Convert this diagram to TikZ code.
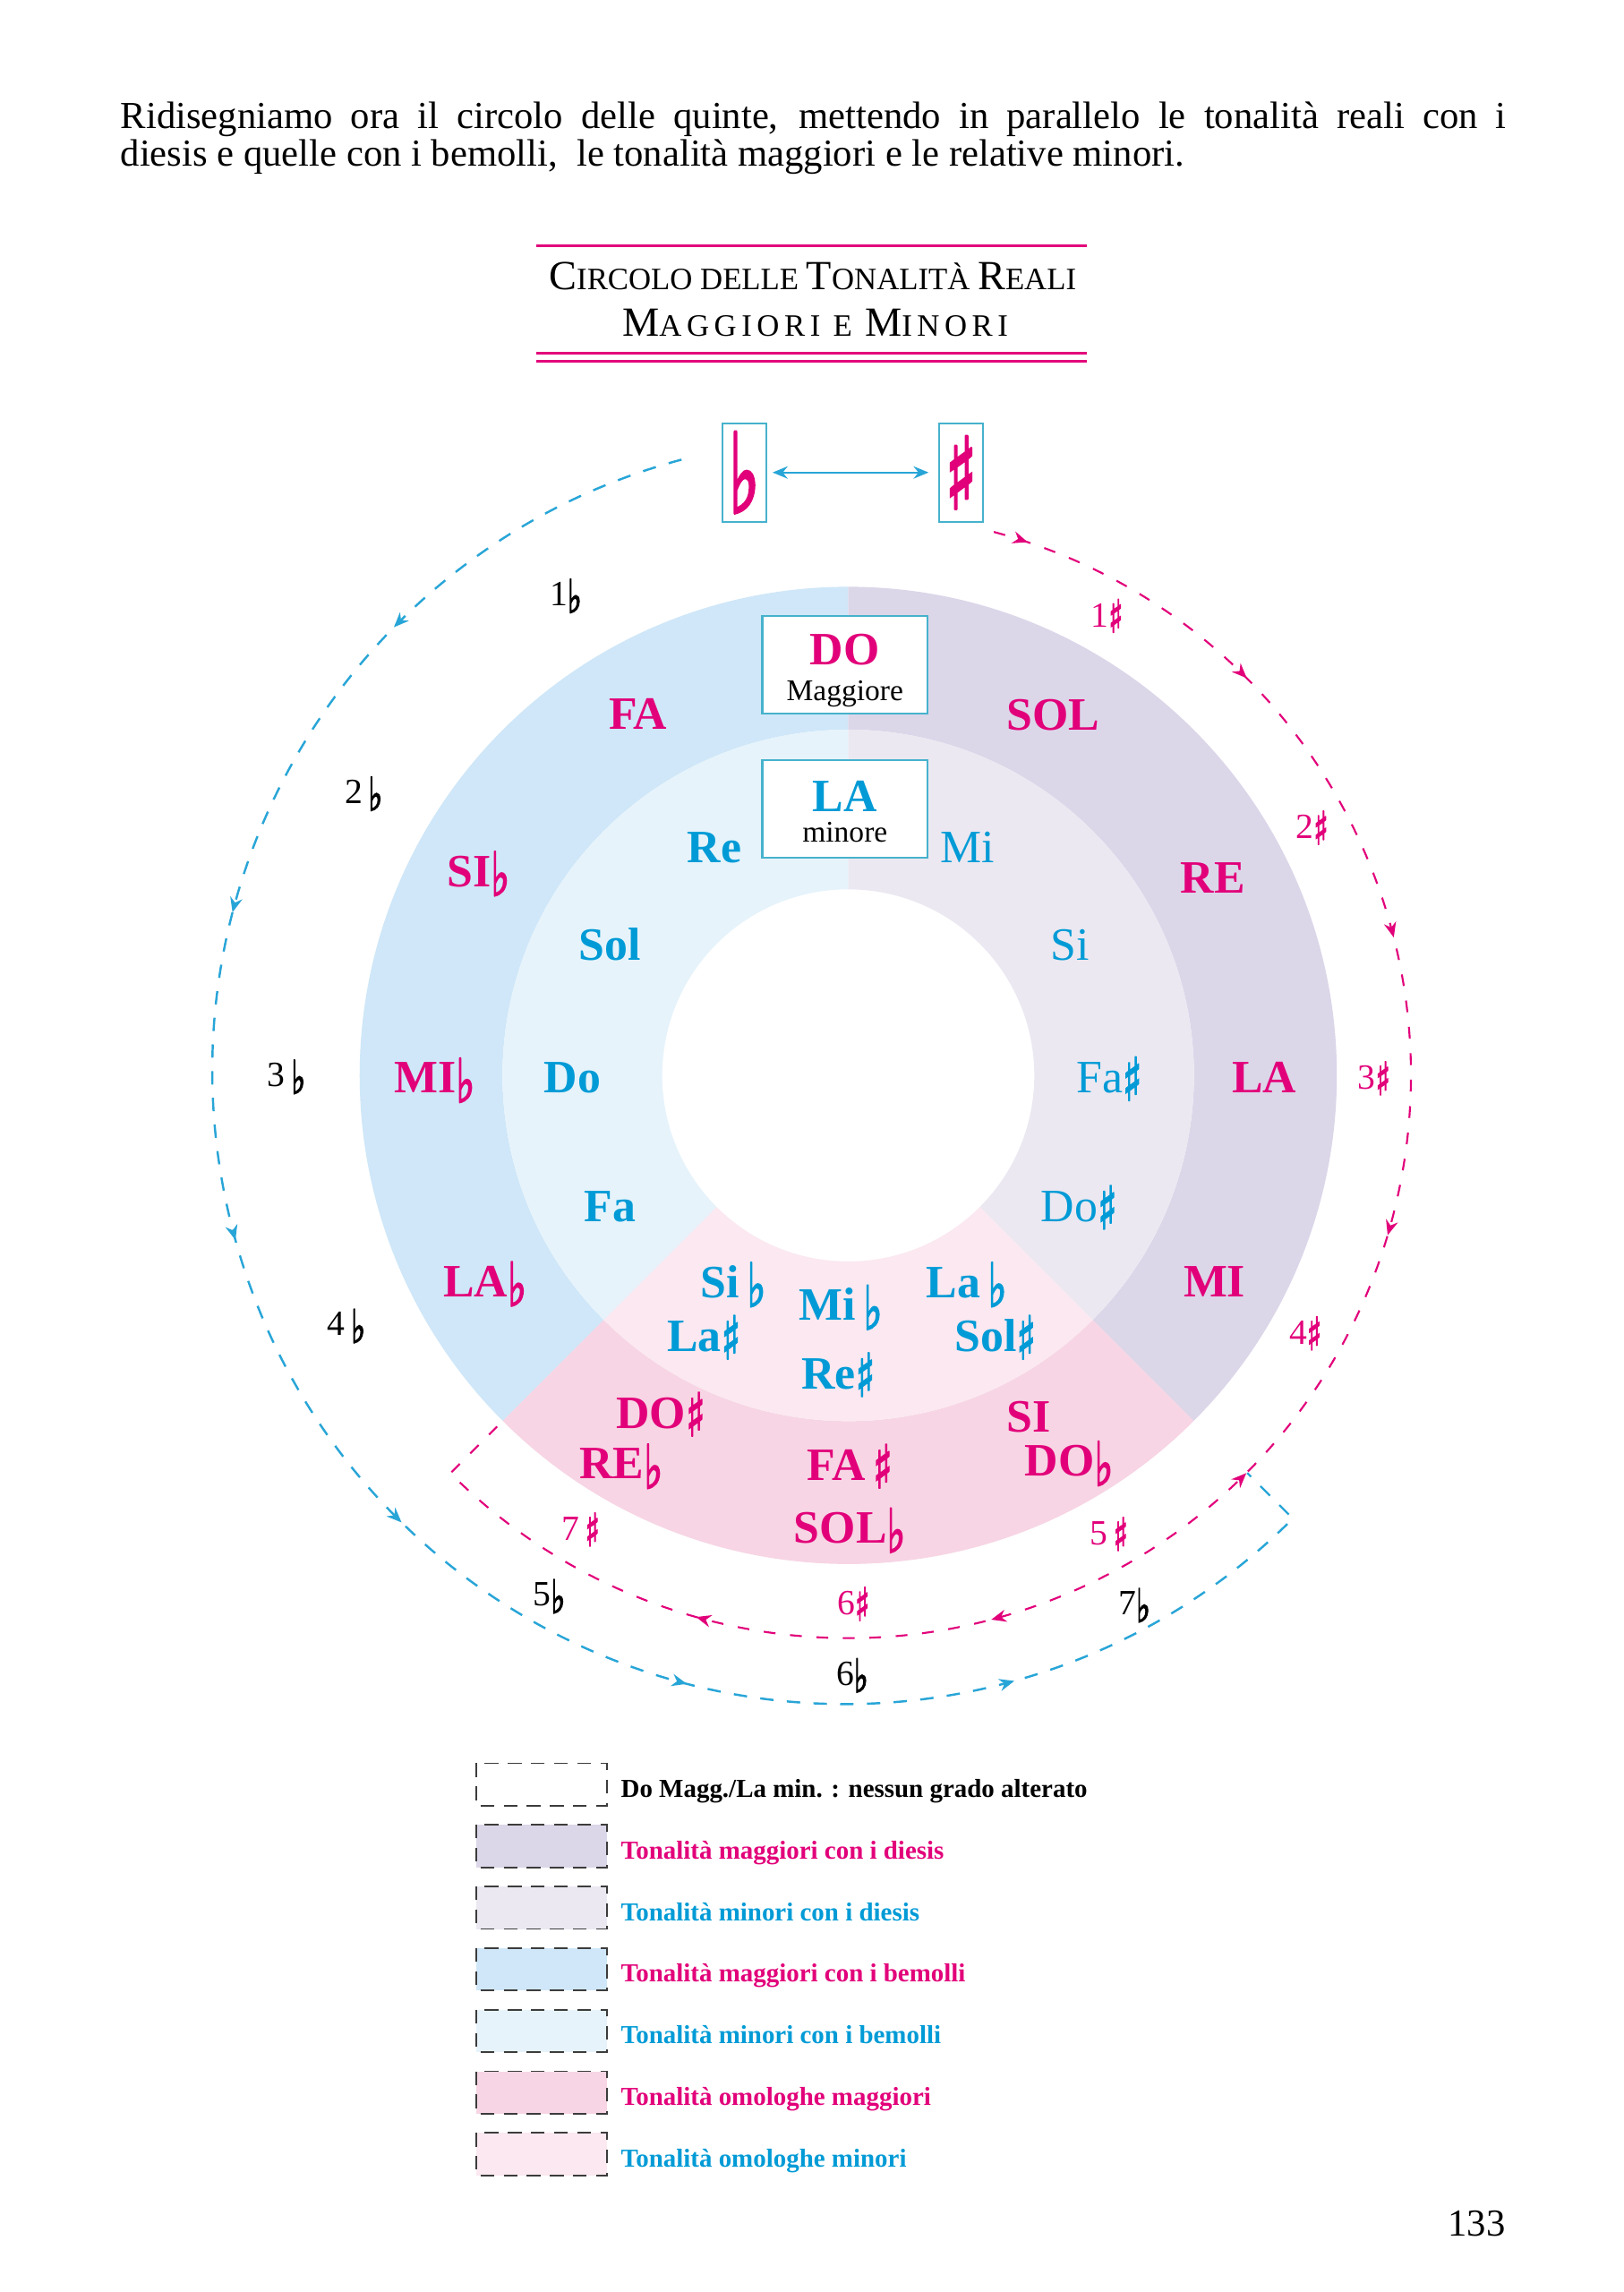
\documentclass[tikz,border=0pt]{standalone}
\usepackage{graphicx}
\usepackage{fontspec}
\setmainfont{Liberation Serif}
\newfontfamily\symf[FakeBold=3]{DejaVu Sans}
\newfontfamily\lsfont[LetterSpace=16]{Liberation Serif}
\usetikzlibrary{arrows.meta,decorations.markings}
\definecolor{mag}{RGB}{226,0,122}
\definecolor{cyT}{RGB}{0,155,214}
\definecolor{cyL}{RGB}{40,165,215}
\definecolor{boxc}{RGB}{70,178,205}
\definecolor{flatMaj}{HTML}{CFE7F8}
\definecolor{flatMin}{HTML}{E6F3FB}
\definecolor{sharpMaj}{HTML}{DCD6E9}
\definecolor{sharpMin}{HTML}{EBE8F1}
\definecolor{enhMaj}{HTML}{F7D5E4}
\definecolor{enhMin}{HTML}{FBE8F0}
\definecolor{legd}{RGB}{60,60,60}
\newcommand\fl{\raisebox{-0.2em}{\scalebox{0.85}[1.3]{\mdseries\symf ♭}}}
\newcommand\sh{\raisebox{-0.16em}{\scalebox{0.85}[1.28]{\mdseries\symf ♯}}}
\newcommand\bigc[1]{{\fontsize{15.2}{15.2}\selectfont #1}}
\tikzset{
  tipc/.tip={Stealth[length=5.5pt,width=4.5pt]},
  maj/.style={text=mag, font=\fontsize{17}{17}\selectfont\bfseries, anchor=base, inner sep=0pt},
  minb/.style={text=cyT, font=\fontsize{17}{17}\selectfont\bfseries, anchor=base, inner sep=0pt},
  minr/.style={text=cyT, font=\fontsize{17}{17}\selectfont, anchor=base, inner sep=0pt},
  numf/.style={text=black, font=\fontsize{13}{13}\selectfont, anchor=base, inner sep=0pt},
  nums/.style={text=mag, font=\fontsize{13}{13}\selectfont, anchor=base, inner sep=0pt},
  keybox/.style={draw=boxc, line width=0.8pt, fill=white, minimum width=60.6pt, minimum height=35.8pt, inner sep=0pt},
  accbox/.style={draw=boxc, line width=0.7pt, minimum width=16.1pt, minimum height=36pt, inner sep=0pt},
  legbox/.style={draw=legd, line width=0.6pt, dash pattern=on 5pt off 3.5pt},
  legtxt/.style={font=\fontsize{9.5}{9.5}\selectfont\bfseries, anchor=base west, inner sep=0pt},
  body/.style={font=\fontsize{14}{14}\selectfont, anchor=base west, inner sep=0pt}
}
\begin{document}
\begin{tikzpicture}[x=0.5371pt,y=0.5371pt]
\useasboundingbox (0,0) rectangle (1108,-1564.4);
\fill[white] (0,0) rectangle (1108,-1564.4);

% body text
\node[body] (l1) at (82,-87.8) {\makebox[508pt][s]{Ridisegniamo ora il circolo delle quinte, mettendo in parallelo le tonalità reali con i}};
\node[body] (l2) at (82,-113.6) {diesis e quelle con i bemolli,~ le tonalità maggiori e le relative minori.};

% title
\draw[mag, line width=1pt] (366,-167.9) -- (742,-167.9);
\draw[mag, line width=1pt] (366,-240.8) -- (742,-240.8);
\draw[mag, line width=1pt] (366,-246.8) -- (742,-246.8);
\node[anchor=base, inner sep=0pt] (t1) at (554.7,-197.9) {\fontsize{11.4}{11.4}\selectfont\bigc{C}IRCOLO DELLE \bigc{T}ONALITÀ \bigc{R}EALI};
\node[anchor=base, inner sep=0pt] (t2) at (556.5,-229.5) {\lsfont\fontsize{11.4}{11.4}\selectfont\bigc{M}AGGIORI E \bigc{M}INORI};

% rings
\begin{scope}[shift={(579,-734)}]
\fill[flatMaj] (90:333.5) arc[start angle=90,end angle=225,radius=333.5] -- (225:236) arc[start angle=225,end angle=90,radius=236] -- cycle;
\fill[sharpMaj] (90:333.5) arc[start angle=90,end angle=-45,radius=333.5] -- (-45:236) arc[start angle=-45,end angle=90,radius=236] -- cycle;
\fill[enhMaj] (225:333.5) arc[start angle=225,end angle=315,radius=333.5] -- (315:236) arc[start angle=315,end angle=225,radius=236] -- cycle;
\fill[flatMin] (90:236) arc[start angle=90,end angle=225,radius=236] -- (225:127) arc[start angle=225,end angle=90,radius=127] -- cycle;
\fill[sharpMin] (90:236) arc[start angle=90,end angle=-45,radius=236] -- (-45:127) arc[start angle=-45,end angle=90,radius=127] -- cycle;
\fill[enhMin] (225:236) arc[start angle=225,end angle=315,radius=236] -- (315:127) arc[start angle=315,end angle=225,radius=127] -- cycle;

% magenta dashed circle (sharps)
\coordinate (mS) at (75:384);
\coordinate (mE) at (225:339);
\draw[mag, line width=0.7pt, dash pattern=on 4.3pt off 5.4pt, postaction={decorate},
  decoration={markings,
    mark=at position 12.96pt with {\arrow{tipc}},
    mark=at position 108.35pt with {\arrow{tipc}},
    mark=at position 218.9pt with {\arrow{tipc}},
    mark=at position 329.4pt with {\arrow{tipc}},
    mark=at position 431.9pt with {\arrowreversed{tipc}},
    mark=at position 541.0pt with {\arrow{tipc}},
    mark=at position 650.5pt with {\arrow{tipc}}}]
  (mS) arc[start angle=75,end angle=-135,radius=384] -- (mE);
\end{scope}

\begin{scope}[shift={(577,-731)}]
\coordinate (cS) at (105:432);
\coordinate (cE) at (315:388);
\draw[cyL, line width=0.8pt, dash pattern=on 4.9pt off 4.9pt, postaction={decorate},
  decoration={markings,
    mark=at position 123.5pt with {\arrow{tipc}},
    mark=at position 245.0pt with {\arrow{tipc}},
    mark=at position 366.5pt with {\arrow{tipc}},
    mark=at position 488.0pt with {\arrow{tipc}},
    mark=at position 609.5pt with {\arrow{tipc}},
    mark=at position 731.0pt with {\arrow{tipc}}}]
  (cS) arc[start angle=105,end angle=315,radius=432] -- (cE);
\end{scope}

% top accidental boxes
\node[accbox] (fbox) at (508,-322.5) {\color{mag}\raisebox{-0.1em}{\scalebox{0.8}[1.35]{\fontsize{30}{30}\symf ♭}}};
\node[accbox] (sbox) at (656,-322.5) {\color{mag}\scalebox{0.85}[1.3]{\fontsize{28}{28}\symf ♯}};
\draw[cyL, line width=0.8pt, {tipc}-{tipc}, shorten <=2pt, shorten >=3.5pt] (fbox) -- (sbox);

% key boxes
\node[keybox] (dobox) at (576.75,-453.65) {};
\node[keybox] (labox) at (576.75,-552.2) {};
\node[maj] (DO) at (576.75,-454) {DO};
\node[anchor=base, inner sep=0pt, font=\fontsize{11}{11}\selectfont] (Magg) at (576.75,-478) {Maggiore};
\node[minb] (LA) at (576.75,-554) {LA};
\node[anchor=base, inner sep=0pt, font=\fontsize{11}{11}\selectfont] (mino) at (576.75,-574.6) {minore};

% major labels
\node[maj] (FA) at (435.5,-498) {FA};
\node[maj] (SOL) at (719,-498.5) {SOL};
\node[maj] (SIb) at (326.5,-605) {SI\fl};
\node[maj] (RE) at (828,-609.7) {RE};
\node[maj] (MIb) at (296.6,-746) {MI\fl};
\node[maj] (LAM) at (863,-746) {LA};
\node[maj] (LAb) at (331,-885) {LA\fl};
\node[maj] (MI) at (829,-885) {MI};
\node[maj] (DOs) at (451,-975) {DO\sh};
\node[maj] (REb) at (424,-1009.5) {RE\fl};
\node[maj] (FAs) at (580,-1010.5) {FA\,\sh};
\node[maj] (SOLb) at (580,-1053.2) {SOL\fl};
\node[maj] (SI) at (702,-977.5) {SI};
\node[maj] (DOb) at (729.7,-1007.6) {DO\fl};

% minor labels
\node[minb] (Re) at (487.6,-589) {Re};
\node[minr] (Mi) at (660.3,-589) {Mi};
\node[minb] (Sol) at (416.4,-655.5) {Sol};
\node[minr] (Si) at (730.2,-655.5) {Si};
\node[minb] (Do) at (390.8,-746) {Do};
\node[minr] (Fas) at (757.1,-746) {Fa\sh};
\node[minb] (Fa) at (416.5,-833.8) {Fa};
\node[minr] (Dos) at (736.5,-833.8) {Do\sh};
\node[minb] (Sib) at (500.5,-885.5) {Si\,\fl};
\node[minb] (Las) at (480.5,-922.5) {La\sh};
\node[minb] (Mib) at (573.9,-901) {Mi\,\fl};
\node[minb] (Res) at (572.2,-948) {Re\sh};
\node[minb] (Lab) at (659.7,-885.5) {La\,\fl};
\node[minb] (Sols) at (679.4,-922.5) {Sol\sh};

% numbers of accidentals
\node[numf] (f1) at (386.2,-413.4) {1\fl};
\node[numf] (f2) at (248.2,-548.4) {2\,\fl};
\node[numf] (f3) at (195.6,-741.7) {3\,\fl};
\node[numf] (f4) at (236.5,-911.7) {4\,\fl};
\node[numf] (f5) at (374.9,-1096.2) {5\fl};
\node[numf] (f6) at (581.7,-1150.2) {6\fl};
\node[numf] (f7) at (774.3,-1102.3) {7\fl};
\node[nums] (s1) at (755.6,-427.8) {1\sh};
\node[nums] (s2) at (895.6,-572.4) {2\sh};
\node[nums] (s3) at (937.9,-743.4) {3\sh};
\node[nums] (s4) at (891,-917.5) {4\sh};
\node[nums] (s5) at (756.9,-1054.5) {5\,\sh};
\node[nums] (s6) at (582.6,-1102.2) {6\sh};
\node[nums] (s7) at (396.3,-1051.4) {7\,\sh};

% legend
\foreach \k/\col/\tc/\txt in {
  0/white/black/{Do Magg./La min. : nessun grado alterato},
  1/sharpMaj/mag/{Tonalità maggiori con i diesis},
  2/sharpMin/cyT/{Tonalità minori con i diesis},
  3/flatMaj/mag/{Tonalità maggiori con i bemolli},
  4/flatMin/cyT/{Tonalità minori con i bemolli},
  5/enhMaj/mag/{Tonalità omologhe maggiori},
  6/enhMin/cyT/{Tonalità omologhe minori}}{
  \pgfmathsetmacro\tp{1203.5+42.05*\k}
  \fill[\col] (325.3,-\tp) rectangle (414.5,-\tp-29);
  \draw[legbox] (325.3,-\tp) rectangle (414.5,-\tp-29);
  \node[legtxt, text=\tc] (leg\k) at (423.5,-\tp-23.2) {\txt};
}

% page number
\node[anchor=base east, inner sep=0pt, font=\fontsize{14}{14}\selectfont] (pg) at (1028,-1526) {133};
\end{tikzpicture}
\end{document}
